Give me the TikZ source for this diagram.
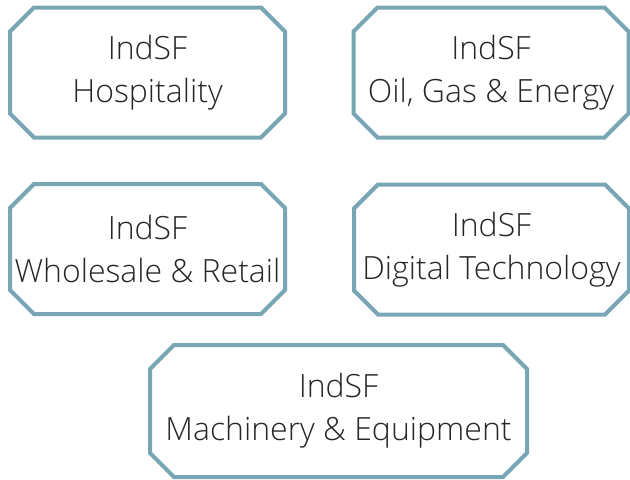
\documentclass[tikz,border=0pt]{standalone}
\usepackage{fontspec}
\IfFontExistsTF{Open Sans Light}{\setmainfont{Open Sans Light}}{\setmainfont{Open Sans}}
\usepackage{tikz}
\usepackage{xcolor}

\definecolor{sfblue}{RGB}{120,166,181}

% octagonal frame round a named node
\newcommand{\octframe}[1]{%
  \draw[sfblue, line width=2pt, line join=miter]
    ([xshift=12pt]#1.north west) -- ([xshift=-12pt]#1.north east)
    -- ([yshift=-12pt]#1.north east) -- ([yshift=12pt]#1.south east)
    -- ([xshift=-12pt]#1.south east) -- ([xshift=12pt]#1.south west)
    -- ([yshift=12pt]#1.south west) -- ([yshift=-12pt]#1.north west) -- cycle;}

\begin{document}
\begin{tikzpicture}[x=0.5pt, y=-0.5pt,
    sector/.style={rectangle, inner sep=0pt, outer sep=0pt,
        minimum width=137.5pt, minimum height=65pt,
        align=center, font=\fontsize{16}{21.6}\selectfont, text=black!85}]
                \useasboundingbox (0,0) rectangle (630,479);
                % Top row
                \node[sector] (hosp) at (147.5,72.5) {IndSF\\Hospitality};
                \node[sector] (oil) at (491,72.5) {IndSF\\Oil, Gas \& Energy};
                
                % Middle row
                \node[sector] (retail) at (147.5,249) {IndSF\\Wholesale \& Retail};
                \node[sector] (digital) at (491.5,249.5) {IndSF\\Digital Technology};
                
                % Bottom, centred under both columns
                \node[sector, minimum width=188.5pt, minimum height=66pt] (mach) at (338.5,411) {IndSF\\Machinery \& Equipment};
                
                % Frames
                \foreach \n in {hosp, oil, retail, digital, mach}
                    \octframe{\n};
            \end{tikzpicture}
\end{document}
